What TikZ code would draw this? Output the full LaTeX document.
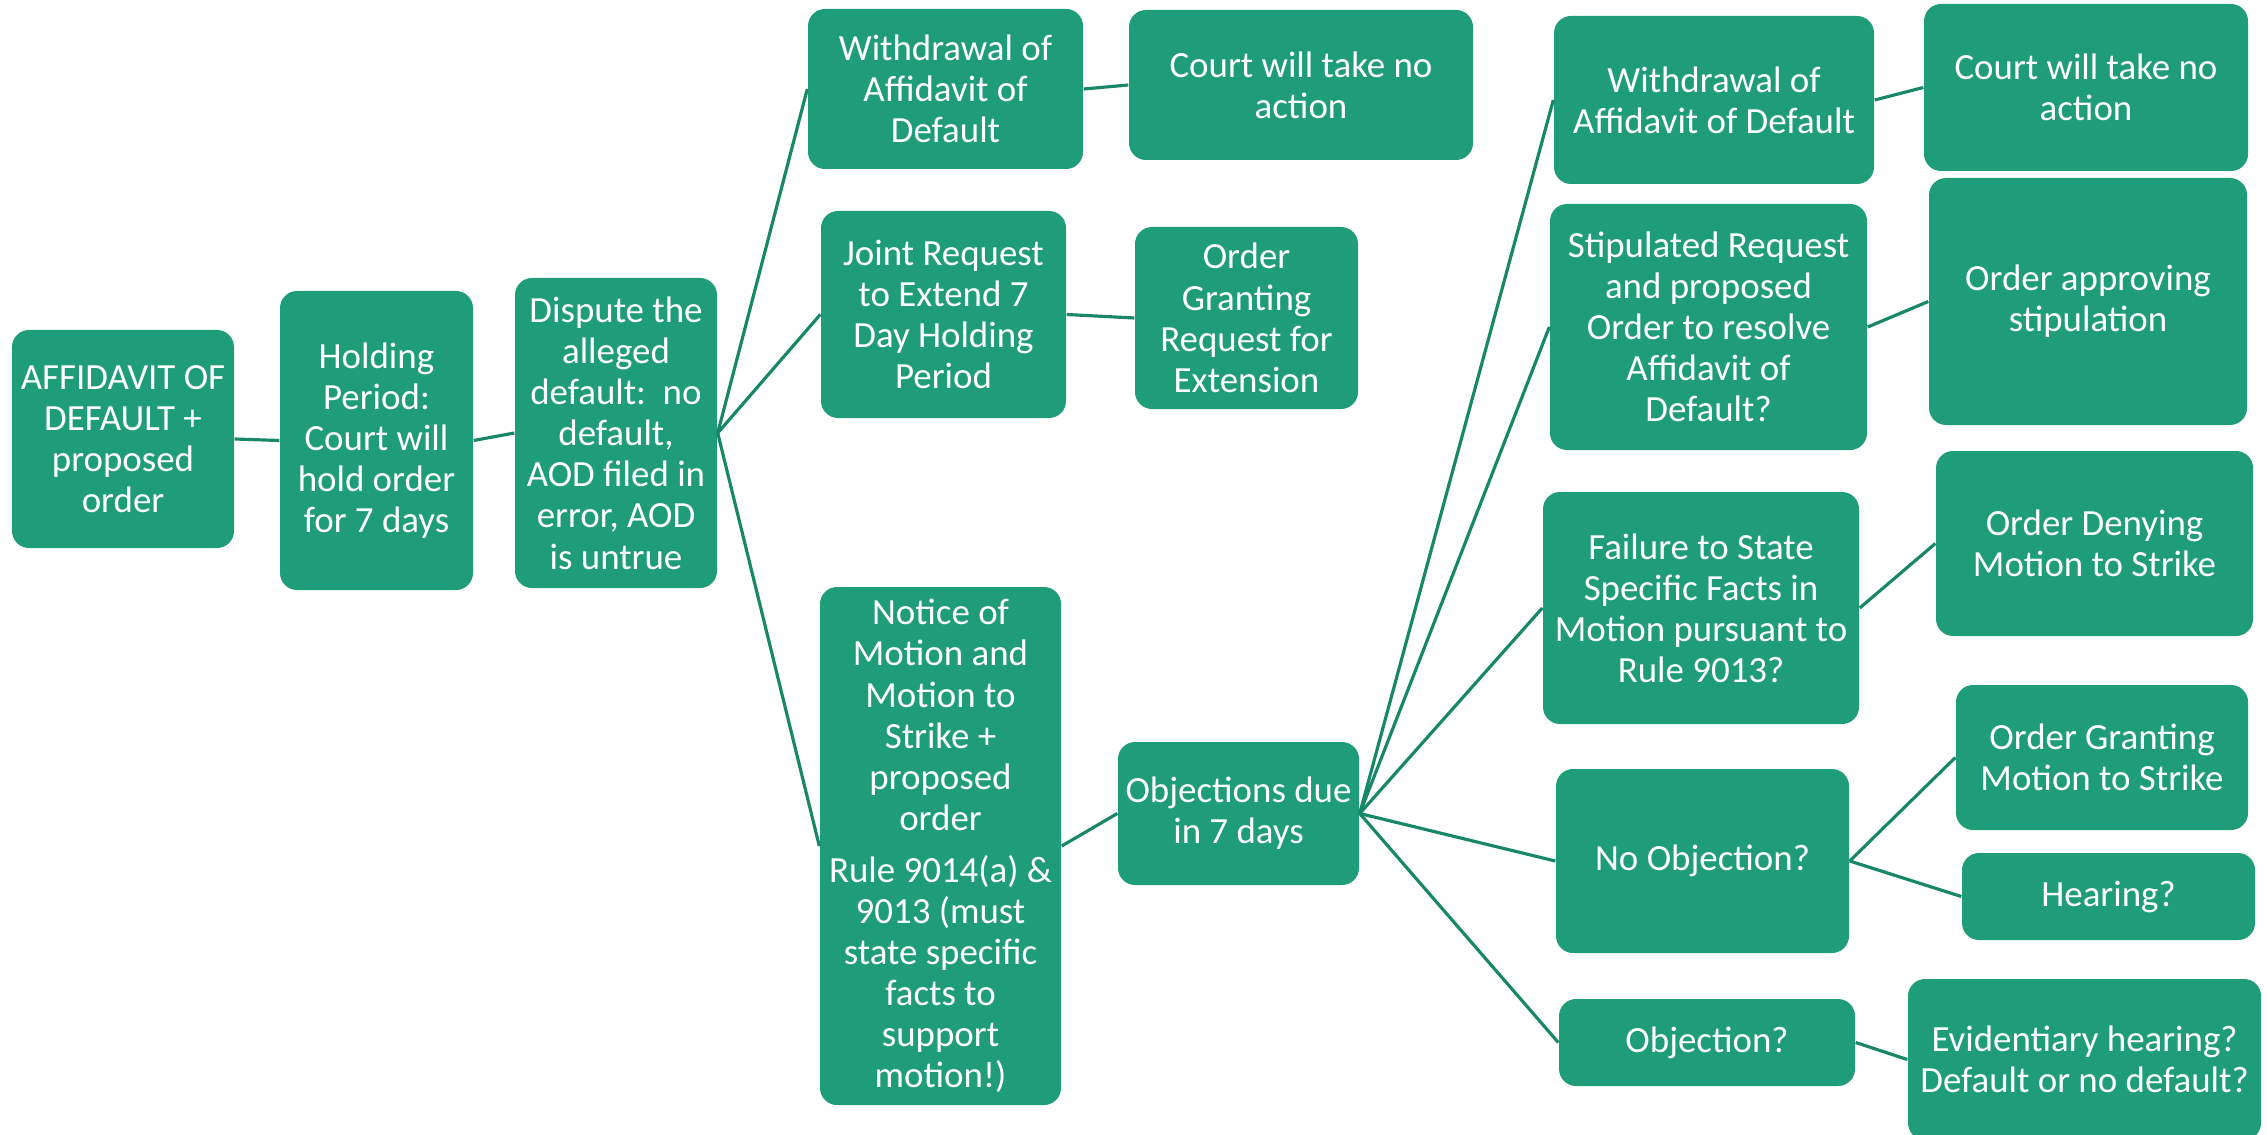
\documentclass[tikz,border=0pt]{standalone}
\usepackage{fontspec}
\setmainfont{Carlito}
\usepackage{xcolor}
\usepackage{tikz}
\usetikzlibrary{positioning}
\definecolor{boxgreen}{RGB}{31,156,120}
\definecolor{linkgreen}{RGB}{24,135,104}
\tikzset{
block/.style = {fill=boxgreen, rounded corners=0.17cm, text=white, align=center, inner sep=1pt,
                font=\fontsize{10.5}{11.7}\selectfont},
link/.style  = {draw=linkgreen, line width=0.9pt},
}

\begin{document}
\begin{tikzpicture}
    \useasboundingbox (0,0) rectangle (22.67,-11.35);
    % spine
    \node [block, minimum width=2.22cm, minimum height=2.18cm] at (1.23,-4.39) (afd) {AFFIDAVIT OF\\DEFAULT +\\proposed\\order};
    \node [block, right of=afd, node distance=2.535cm, yshift=-0.015cm, minimum width=1.93cm, minimum height=2.99cm] (hold) {Holding\\Period:\\Court will\\hold order\\for 7 days};
    \node [block, right of=hold, node distance=2.395cm, yshift=0.075cm, minimum width=2.02cm, minimum height=3.10cm] (dispute) {Dispute the\\alleged\\default:\ \ no\\default,\\AOD filed in\\error, AOD\\is untrue};

    % first split
    \node [block, minimum width=2.75cm, minimum height=1.60cm] at (9.455,-0.89) (wd) {Withdrawal of\\Affidavit of\\Default};
    \node [block, minimum width=3.44cm, minimum height=1.50cm] at (13.01,-0.85) (noact) {Court will take no\\action};
    \node [block, minimum width=2.45cm, minimum height=2.07cm] at (9.435,-3.145) (joint) {Joint Request\\to Extend 7\\Day Holding\\Period};
    \node [block, minimum width=2.23cm, minimum height=1.82cm] at (12.465,-3.18) (extgrant) {Order\\Granting\\Request for\\Extension};
    \node [block, minimum width=2.41cm, minimum height=5.18cm] at (9.405,-8.46) (notice) {Notice of\\Motion and\\Motion to\\Strike +\\proposed\\order\\[3pt]Rule 9014(a) \&\\9013 (must\\state specific\\facts to\\support\\motion!)};
    \node [block, minimum width=2.41cm, minimum height=1.43cm] at (12.385,-8.135) (objdue) {Objections due\\in 7 days};

    % second split
    \node [block, minimum width=3.20cm, minimum height=1.68cm] at (17.14,-1.00) (wd2) {Withdrawal of\\Affidavit of Default};
    \node [block, minimum width=3.24cm, minimum height=1.67cm] at (20.86,-0.875) (noact2) {Court will take no\\action};
    \node [block, minimum width=3.17cm, minimum height=2.46cm] at (17.085,-3.27) (stip) {Stipulated Request\\and proposed\\Order to resolve\\Affidavit of\\Default?};
    \node [block, minimum width=3.18cm, minimum height=2.47cm] at (20.88,-3.015) (approve) {Order approving\\stipulation};
    \node [block, minimum width=3.16cm, minimum height=2.32cm] at (17.01,-6.08) (fail) {Failure to State\\Specific Facts in\\Motion pursuant to\\Rule 9013?};
    \node [block, minimum width=3.17cm, minimum height=1.85cm] at (20.945,-5.435) (deny) {Order Denying\\Motion to Strike};
    \node [block, minimum width=2.93cm, minimum height=1.84cm] at (17.025,-8.61) (noobj) {No Objection?};
    \node [block, minimum width=2.92cm, minimum height=1.45cm] at (21.02,-7.575) (grant) {Order Granting\\Motion to Strike};
    \node [block, minimum width=2.93cm, minimum height=0.87cm] at (21.085,-8.965) (hearing) {Hearing?};
    \node [block, minimum width=2.96cm, minimum height=0.87cm] at (17.07,-10.425) (obj) {Objection?};
    \node [block, minimum width=3.53cm, minimum height=1.61cm] at (20.845,-10.595) (evid) {Evidentiary hearing?\\Default or no default?};

    \draw [link] (afd.east) -- (hold.west);
    \draw [link] (hold.east) -- (dispute.west);
    \draw [link] (dispute.east) -- (wd.west);
    \draw [link] (dispute.east) -- (joint.west);
    \draw [link] (dispute.east) -- (notice.west);
    \draw [link] (wd.east) -- (noact.west);
    \draw [link] (joint.east) -- (extgrant.west);
    \draw [link] (notice.east) -- (objdue.west);
    \draw [link] (objdue.east) -- (wd2.west);
    \draw [link] (objdue.east) -- (stip.west);
    \draw [link] (objdue.east) -- (fail.west);
    \draw [link] (objdue.east) -- (noobj.west);
    \draw [link] (objdue.east) -- (obj.west);
    \draw [link] (wd2.east) -- (noact2.west);
    \draw [link] (stip.east) -- (approve.west);
    \draw [link] (fail.east) -- (deny.west);
    \draw [link] (noobj.east) -- (grant.west);
    \draw [link] (noobj.east) -- (hearing.west);
    \draw [link] (obj.east) -- (evid.west);
\end{tikzpicture}
\end{document}
